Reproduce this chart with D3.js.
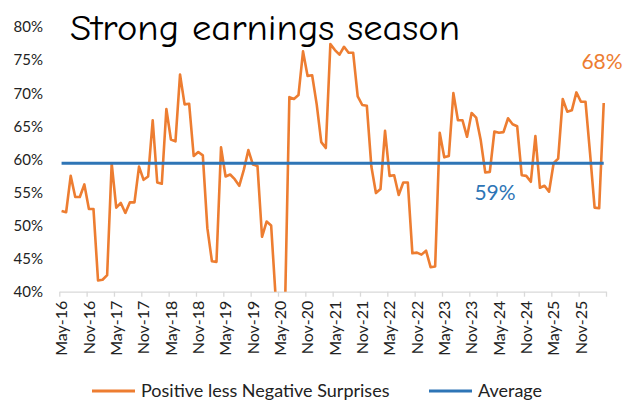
<!DOCTYPE html>
<html>
<head>
<meta charset="utf-8">
<script src="https://cdn.jsdelivr.net/npm/d3@7"></script>
<style>
  body { margin: 0; background: #fff; }
  svg { display: block; font-family: Lato, "Open Sans", sans-serif; }
</style>
</head>
<body>
<svg width="634" height="402"></svg>
<script>
// monthly values, May-16 .. Apr-26 (% positive less negative surprises)
var surprises = [
  52.2, 52.0, 57.5, 54.3, 54.3, 56.2, 52.5, 52.5, 41.7, 41.8, 42.5, 59.4,
  52.7, 53.4, 51.9, 53.5, 53.5, 58.9, 56.9, 57.4, 65.9, 56.5, 56.3, 67.6,
  63.0, 62.7, 72.8, 68.3, 68.4, 60.5, 61.1, 60.6, 49.6, 44.6, 44.5, 61.8,
  57.4, 57.7, 57.0, 56.0, 58.4, 61.4, 59.2, 59.0, 48.3, 50.6, 50.0, 39.0,
  28.0, 36.0, 69.4, 69.1, 69.7, 76.3, 72.6, 72.7, 68.3, 62.6, 61.7, 77.4,
  76.5, 75.8, 77.0, 76.1, 76.1, 69.5, 68.2, 68.1, 58.9, 54.9, 55.5, 64.3,
  57.5, 57.6, 54.6, 56.5, 56.5, 45.8, 45.9, 45.6, 46.2, 43.7, 43.8, 64.0,
  60.3, 60.5, 70.0, 65.9, 65.9, 63.4, 67.0, 66.3, 62.9, 58.0, 58.1, 64.2,
  64.0, 64.1, 66.2, 65.3, 65.0, 57.6, 57.5, 56.6, 63.5, 55.7, 56.0, 55.1,
  59.4, 60.1, 69.1, 67.2, 67.4, 70.1, 68.7, 68.7, 60.9, 52.7, 52.6, 68.5
];
var average = 59.4;
var months = d3.timeMonth.range(new Date(2016, 4, 1), new Date(2026, 4, 1));
var tickLabels = ["May-16", "Nov-16", "May-17", "Nov-17", "May-18", "Nov-18", "May-19",
  "Nov-19", "May-20", "Nov-20", "May-21", "Nov-21", "May-22", "Nov-22", "May-23",
  "Nov-23", "May-24", "Nov-24", "May-25", "Nov-25"];
var yTicks = [40, 45, 50, 55, 60, 65, 70, 75, 80];
var seriesNames = ["Positive less Negative Surprises", "Average"];

var orange = "#ED7D31", blue = "#2E75B6";

var svg = d3.select("svg");
var plotLeft = 59.3, plotRight = 606, plotTop = 26.9, plotBottom = 291.7;

// category boundaries on a linear scale, points sit in the middle of each month
var xb = d3.scaleLinear().domain([0, months.length]).range([plotLeft, plotRight]);
var xc = function (i) { return xb(i + 0.5); };
var y = d3.scaleLinear().domain([40, 80]).range([plotBottom, plotTop]);

svg.append("defs").append("clipPath").attr("id", "plot")
  .append("rect").attr("x", plotLeft).attr("y", 0)
  .attr("width", plotRight - plotLeft + 4).attr("height", plotBottom);

// y labels (no axis line)
svg.append("g").selectAll("text")
  .data(yTicks).enter().append("text")
  .attr("x", 43).attr("y", function (d) { return y(d); })
  .attr("dy", "0.36em").attr("text-anchor", "end")
  .attr("font-size", 15).attr("fill", "#222")
  .text(function (d) { return d + "%"; });

// x axis
var xAxis = d3.axisBottom(xb)
  .tickValues(d3.range(0, months.length + 1, 6))
  .tickSize(5).tickSizeOuter(0).tickFormat("");
var gx = svg.append("g").attr("transform", "translate(0," + plotBottom + ")").call(xAxis);
gx.selectAll("path, line").attr("stroke", "#d9d9d9").attr("stroke-width", 1.3);

svg.append("g").selectAll("text")
  .data(tickLabels).enter().append("text")
  .attr("transform", function (d, i) { return "translate(" + xc(i * 6) + "," + (plotBottom + 9) + ") rotate(-90)"; })
  .attr("dy", "0.36em").attr("text-anchor", "end")
  .attr("font-size", 16).attr("fill", "#222")
  .text(function (d) { return d; });

// lines
var line = d3.line()
  .x(function (d, i) { return xc(i); })
  .y(function (d) { return y(d); });

svg.append("path")
  .datum(surprises)
  .attr("clip-path", "url(#plot)")
  .attr("fill", "none").attr("stroke", orange).attr("stroke-width", 2.6)
  .attr("stroke-linejoin", "round")
  .attr("d", line);

svg.append("line")
  .attr("x1", xc(0)).attr("x2", xc(months.length - 1))
  .attr("y1", y(average)).attr("y2", y(average))
  .attr("stroke", blue).attr("stroke-width", 3);

// annotations
svg.append("text").attr("x", 602).attr("y", y(surprises[surprises.length - 1]) - 34)
  .attr("text-anchor", "middle").attr("font-size", 21).attr("fill", orange)
  .text(Math.round(surprises[surprises.length - 1] - 0.5) + "%");
svg.append("text").attr("x", 495).attr("y", y(average) + 37)
  .attr("text-anchor", "middle").attr("font-size", 21).attr("fill", blue)
  .text(Math.floor(average) + "%");

// title
svg.append("text").attr("x", 70).attr("y", 40)
  .attr("font-family", "'Segoe Print', 'Comic Sans MS', 'Comic Neue', 'DejaVu Sans', sans-serif")
  .attr("font-size", 36).attr("fill", "#000")
  .attr("textLength", 390).attr("lengthAdjust", "spacingAndGlyphs")
  .text("Strong earnings season");

// legend
var legend = svg.append("g").attr("transform", "translate(0,391)");
var items = [{ name: seriesNames[0], color: orange, x: 92 }, { name: seriesNames[1], color: blue, x: 429 }];
items.forEach(function (it) {
  legend.append("line").attr("x1", it.x).attr("x2", it.x + 43)
    .attr("stroke", it.color).attr("stroke-width", 3);
  legend.append("text").attr("x", it.x + 49).attr("dy", "0.35em")
    .attr("font-size", 18).attr("fill", "#222").text(it.name);
});
</script>
</body>
</html>
